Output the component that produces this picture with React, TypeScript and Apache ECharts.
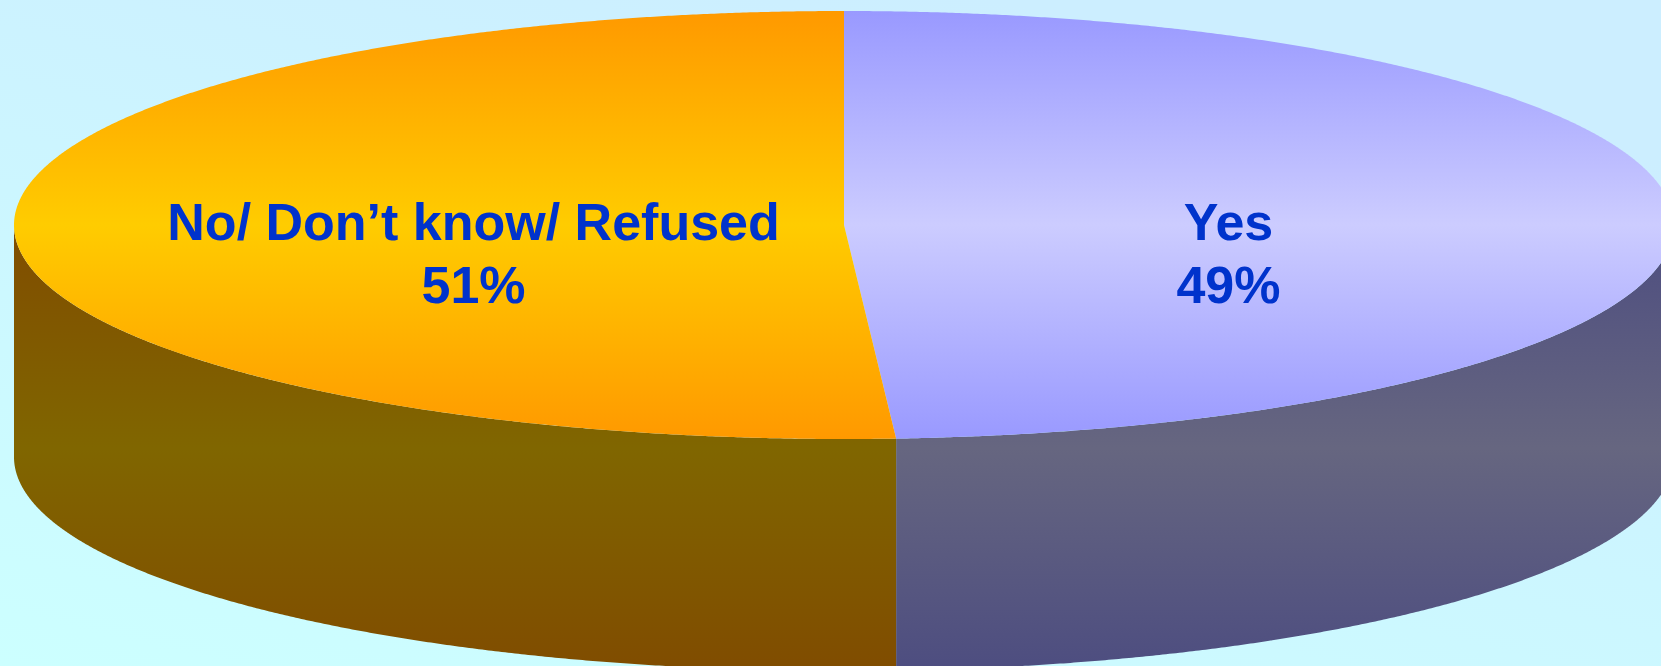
import React, { useEffect, useRef } from "react";
import * as echarts from "echarts";

const CATEGORIES = ["Yes", "No/ Don\u2019t know/ Refused"];
const VALUES = [49, 51];
const TOP_EDGE_COLORS = ["#9999FF", "#FF9900"];
const TOP_CENTER_COLORS = ["#CCCCFF", "#FFCC00"];
const SIDE_EDGE_COLORS = ["#4D4D80", "#804C00"];
const SIDE_CENTER_COLORS = ["#666680", "#806600"];

// layout
const W = 1661;
const H = 666;
const CX = 844;
const CY = 225;
const RX = 830;
const RY = 214;
const DEPTH = 232;
const LABEL_R = 0.455;
const LABEL_SHIFT_X = 7;
const LABEL_SHIFT_Y = 28;
const LINE_GAP = 63;

const TOTAL = VALUES.reduce((s, v) => s + v, 0);

function pt(theta: number, dy = 0): number[] {
  return [CX + RX * Math.sin(theta), CY - RY * Math.cos(theta) + dy];
}

function arcPoints(t0: number, t1: number, dy: number): number[][] {
  const n = Math.max(2, Math.ceil((t1 - t0) / (Math.PI / 720)));
  const pts: number[][] = [];
  for (let k = 0; k <= n; k++) {
    pts.push(pt(t0 + ((t1 - t0) * k) / n, dy));
  }
  return pts;
}

function centerGrad(y0: number, y1: number, edge: string, center: string) {
  return new echarts.graphic.LinearGradient(
    0,
    y0,
    0,
    y1,
    [
      { offset: 0, color: edge },
      { offset: 0.5, color: center },
      { offset: 1, color: edge },
    ],
    true
  );
}

function renderItem(params: any, api: any) {
  const i = params.dataIndex;
  const value = api.value(1);
  let before = 0;
  for (let j = 0; j < i; j++) before += VALUES[j];
  const t0 = (before / TOTAL) * Math.PI * 2;
  const t1 = ((before + value) / TOTAL) * Math.PI * 2;
  const children: any[] = [];

  // visible side (front half)
  const s0 = Math.max(t0, Math.PI / 2);
  const s1 = Math.min(t1, (Math.PI * 3) / 2);
  if (s0 < s1) {
    const topArc = arcPoints(s0, s1, 0);
    const botArc = arcPoints(s0, s1, DEPTH).reverse();
    children.push({
      type: "polygon",
      z2: 1,
      shape: { points: topArc.concat(botArc) },
      style: {
        fill: centerGrad(CY, CY + RY + DEPTH, SIDE_EDGE_COLORS[i], SIDE_CENTER_COLORS[i]),
        stroke: null,
      },
    });
  }

  // top face
  const topPts = [[CX, CY]].concat(arcPoints(t0, t1, 0));
  children.push({
    type: "polygon",
    z2: 2,
    shape: { points: topPts },
    style: {
      fill: centerGrad(CY - RY, CY + RY, TOP_EDGE_COLORS[i], TOP_CENTER_COLORS[i]),
      stroke: null,
    },
  });

  // label
  const mid = (t0 + t1) / 2;
  const lx = CX + RX * LABEL_R * Math.sin(mid) + LABEL_SHIFT_X;
  const ly = CY + LABEL_SHIFT_Y;
  const pct = Math.round((value / TOTAL) * 100) + "%";
  const font = {
    fontFamily: "'Liberation Sans', Arial, sans-serif",
    fontWeight: "bold",
    fontSize: 52,
    fill: "#0033CC",
    align: "center",
    verticalAlign: "middle",
  };
  children.push({
    type: "text",
    z2: 3,
    x: lx,
    y: ly - LINE_GAP / 2,
    style: { ...font, text: CATEGORIES[i], x: 0, y: 0 },
  });
  children.push({
    type: "text",
    z2: 3,
    x: lx,
    y: ly + LINE_GAP / 2,
    style: { ...font, text: pct, x: 0, y: 0 },
  });

  return { type: "group", children };
}

export default function App() {
  const ref = useRef<HTMLDivElement>(null);
  useEffect(() => {
    document.body.style.margin = "0";
    const chart = echarts.init(ref.current!, null, { renderer: "svg" });
    chart.setOption({
      animation: false,
      backgroundColor: {
        type: "linear",
        x: 0,
        y: 1,
        x2: 0.6,
        y2: 0,
        colorStops: [
          { offset: 0, color: "#CCFFFF" },
          { offset: 1, color: "#CCEEFF" },
        ],
      },
      series: [
        {
          type: "custom",
          coordinateSystem: "none",
          silent: true,
          renderItem,
          data: VALUES.map((v, i) => [i, v]),
        },
      ],
    });
    return () => chart.dispose();
  }, []);
  return <div ref={ref} style={{ width: W, height: H }} />;
}
